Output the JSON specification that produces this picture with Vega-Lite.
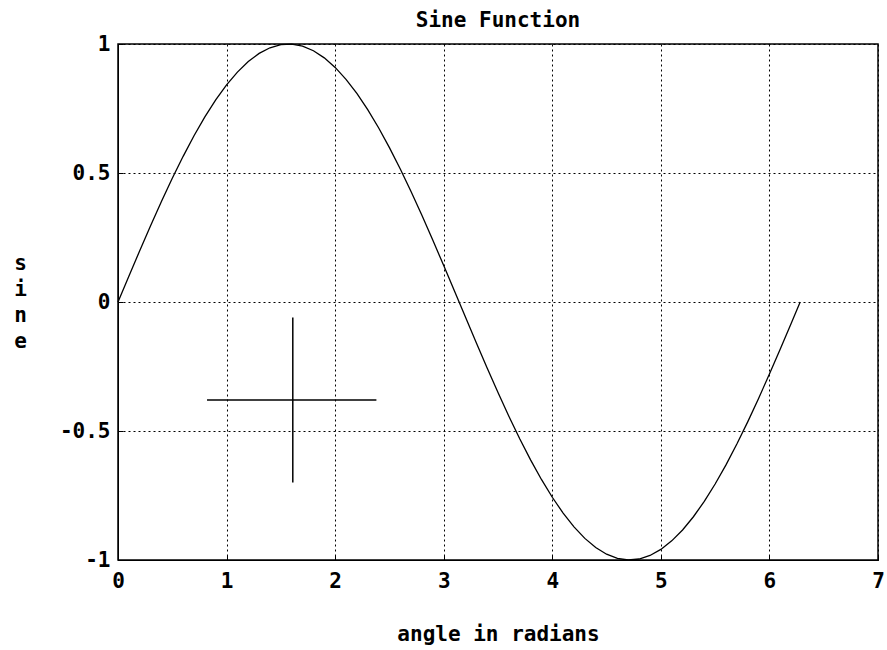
{
  "$schema": "https://vega.github.io/schema/vega-lite/v6.json",
  "width": 760,
  "height": 516,
  "autosize": "none",
  "padding": {"left": 118, "top": 44, "right": 9, "bottom": 90},
  "background": "white",
  "title": {"text": "Sine Function", "font": "DejaVu Sans Mono", "fontSize": 21, "fontWeight": "bold", "color": "black", "offset": 2, "anchor": "middle"},
  "config": {
    "view": {"stroke": "black", "strokeWidth": 1.5},
    "axis": {
      "labelFont": "DejaVu Sans Mono", "labelFontSize": 21, "labelFontWeight": "bold", "labelColor": "black", "labelFlush": false,
      "titleFont": "DejaVu Sans Mono", "titleFontSize": 21, "titleFontWeight": "bold", "titleColor": "black",
      "domainColor": "black", "tickColor": "black", "gridColor": "black", "gridDash": [2, 3], "gridOpacity": 1, "gridWidth": 1
    }
  },
  "datasets": {
    "sine": [
      {"x": 0, "y": 0}, {"x": 0.1, "y": 0.0998}, {"x": 0.2, "y": 0.1987}, {"x": 0.3, "y": 0.2955}, {"x": 0.4, "y": 0.3894},
      {"x": 0.5, "y": 0.4794}, {"x": 0.6, "y": 0.5646}, {"x": 0.7, "y": 0.6442}, {"x": 0.8, "y": 0.7174}, {"x": 0.9, "y": 0.7833},
      {"x": 1.0, "y": 0.8415}, {"x": 1.1, "y": 0.8912}, {"x": 1.2, "y": 0.932}, {"x": 1.3, "y": 0.9636}, {"x": 1.4, "y": 0.9854},
      {"x": 1.5, "y": 0.9975}, {"x": 1.6, "y": 0.9996}, {"x": 1.7, "y": 0.9917}, {"x": 1.8, "y": 0.9738}, {"x": 1.9, "y": 0.9463},
      {"x": 2.0, "y": 0.9093}, {"x": 2.1, "y": 0.8632}, {"x": 2.2, "y": 0.8085}, {"x": 2.3, "y": 0.7457}, {"x": 2.4, "y": 0.6755},
      {"x": 2.5, "y": 0.5985}, {"x": 2.6, "y": 0.5155}, {"x": 2.7, "y": 0.4274}, {"x": 2.8, "y": 0.335}, {"x": 2.9, "y": 0.2392},
      {"x": 3.0, "y": 0.1411}, {"x": 3.1, "y": 0.0416}, {"x": 3.2, "y": -0.0584}, {"x": 3.3, "y": -0.1577}, {"x": 3.4, "y": -0.2555},
      {"x": 3.5, "y": -0.3508}, {"x": 3.6, "y": -0.4425}, {"x": 3.7, "y": -0.5298}, {"x": 3.8, "y": -0.6119}, {"x": 3.9, "y": -0.6878},
      {"x": 4.0, "y": -0.7568}, {"x": 4.1, "y": -0.8183}, {"x": 4.2, "y": -0.8716}, {"x": 4.3, "y": -0.9162}, {"x": 4.4, "y": -0.9516},
      {"x": 4.5, "y": -0.9775}, {"x": 4.6, "y": -0.9937}, {"x": 4.7, "y": -0.9999}, {"x": 4.8, "y": -0.9962}, {"x": 4.9, "y": -0.9825},
      {"x": 5.0, "y": -0.9589}, {"x": 5.1, "y": -0.9258}, {"x": 5.2, "y": -0.8835}, {"x": 5.3, "y": -0.8323}, {"x": 5.4, "y": -0.7728},
      {"x": 5.5, "y": -0.7055}, {"x": 5.6, "y": -0.6313}, {"x": 5.7, "y": -0.5507}, {"x": 5.8, "y": -0.4646}, {"x": 5.9, "y": -0.3739},
      {"x": 6.0, "y": -0.2794}, {"x": 6.1, "y": -0.1822}, {"x": 6.2, "y": -0.0831}, {"x": 6.2832, "y": 0}
    ],
    "cross": [
      {"x": 0.82, "x2": 2.38, "y": -0.38, "y2": -0.38},
      {"x": 1.61, "x2": 1.61, "y": -0.06, "y2": -0.70}
    ]
  },
  "layer": [
    {
      "data": {"name": "sine"},
      "mark": {"type": "line", "color": "black", "strokeWidth": 1.3},
      "encoding": {
        "x": {"field": "x", "type": "quantitative", "scale": {"domain": [0, 7], "nice": false, "zero": false},
              "axis": {"title": "angle in radians", "values": [0, 1, 2, 3, 4, 5, 6, 7], "format": "~g", "tickSize": -5, "labelPadding": 15, "titlePadding": 32, "grid": true}},
        "y": {"field": "y", "type": "quantitative", "scale": {"domain": [-1, 1], "nice": false},
              "axis": {"title": ["s", "i", "n", "e"], "titleAngle": 0, "titleAlign": "center", "titleBaseline": "middle", "titleLineHeight": 26, "titleX": -98, "titleY": 219,
                       "values": [-1, -0.5, 0, 0.5, 1], "format": "~g", "tickSize": -5, "labelPadding": 13, "grid": true,
                       "labelExpr": "replace(datum.label, '−', '-')"}}
      }
    },
    {
      "data": {"name": "cross"},
      "mark": {"type": "rule", "color": "black", "strokeWidth": 1.5},
      "encoding": {
        "x": {"field": "x", "type": "quantitative"},
        "x2": {"field": "x2"},
        "y": {"field": "y", "type": "quantitative"},
        "y2": {"field": "y2"}
      }
    }
  ]
}
